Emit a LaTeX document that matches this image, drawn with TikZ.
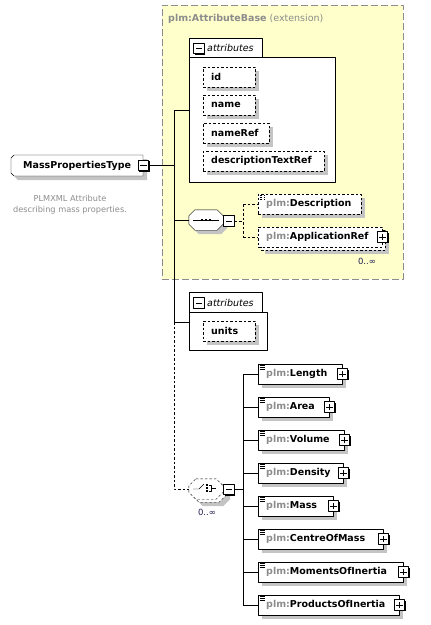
\documentclass[tikz,border=0pt]{standalone}
\usepackage{fontspec}
\setmainfont{DejaVu Sans}
\usetikzlibrary{shadows}
\definecolor{yel}{HTML}{FFFFCC}
\definecolor{shd}{HTML}{C4C4C4}
\definecolor{pfx}{HTML}{8C8C8C}
\definecolor{occ}{HTML}{202050}
\newcommand\plmpfx{\textcolor{pfx}{plm:}}
% octagon outline round a named node: [options]{node}{chamfer}
\newcommand\octo[3][]{%
  \draw[fill=white,#1] ([xshift=#3]#2.north west) -- ([xshift=-#3]#2.north east) -- ([yshift=-#3]#2.north east)
    -- ([yshift=#3]#2.south east) -- ([xshift=-#3]#2.south east) -- ([xshift=#3]#2.south west)
    -- ([yshift=#3]#2.south west) -- ([yshift=-#3]#2.north west) -- cycle;}
\tikzset{
  shd/.style={drop shadow={shadow xshift=4pt,shadow yshift=-4pt,fill=shd,opacity=1}},
  dsh/.style={dash pattern=on 2.5pt off 2pt},
  box/.style={draw,fill=white,anchor=west,minimum height=20,inner xsep=8,inner ysep=0,align=left,font=\fontsize{9.5}{11}\selectfont\bfseries},
  elem/.style={box,shd},
  attr/.style={elem,dsh},
  icon/.style={path picture={\foreach \k in {1.5,3.2,4.9}
      \draw[line width=.4pt] ([shift={(1.5pt,-\k pt)}]path picture bounding box.north west) -- ++(5pt,0);}},
  pm/.style={draw,fill=white,minimum size=10.5,inner sep=0,line width=.8pt,
    drop shadow={shadow xshift=1pt,shadow yshift=-1pt,fill=black,opacity=1}},
  minusbox/.style={pm,path picture={\draw[line width=.8pt] ([xshift=2pt]path picture bounding box.west) -- ([xshift=-2pt]path picture bounding box.east);}},
  plusbox/.style={pm,path picture={\draw[line width=.8pt] ([xshift=2pt]path picture bounding box.west) -- ([xshift=-2pt]path picture bounding box.east)
      ([yshift=2pt]path picture bounding box.south) -- ([yshift=-2pt]path picture bounding box.north);}},
  grp/.style={draw,fill=white,anchor=north west,inner sep=0},
  frame/.style={minimum width=34,minimum height=20,inner sep=0},
  mult/.style={text=occ,font=\fontsize{8.5}{9}\selectfont}
}
\begin{document}
\begin{tikzpicture}[x=1pt,y=-1pt,line join=round]
\useasboundingbox (0,0) rectangle (431,625);
% extension base
\node[draw=pfx,fill=yel,dash pattern=on 7pt off 3pt,anchor=north west,minimum width=241,minimum height=274,inner sep=0] (base) at (162,5) {};
\node[anchor=west,text=pfx,font=\fontsize{9.5}{11}\selectfont,inner sep=0] (basettl) at (168,19) {\textbf{plm:AttributeBase} (extension)};
% type
\draw[fill=white,shd] (14,155) -- (143,155) -- (143,176) -- (14,176) -- (11,173) -- (11,158) -- cycle;
\node[anchor=west,minimum width=132,minimum height=21,inner xsep=4,inner ysep=0,
  font=\fontsize{9.5}{11}\selectfont\bfseries] (mpt) at (11,165.5) {MassPropertiesType\hspace{14pt}};
\node[minusbox] (mptm) at (mpt.east) {};
\node[text=pfx,align=center,font=\fontsize{8.2}{11}\selectfont] (doc) at (70,205) {PLMXML Attribute\\describing mass properties.};
% attributes of base
\node[grp,minimum width=146,minimum height=125] (ag1) at (189,57) {};
\draw[fill=white] (ag1.north west) -- ++(0,-19) -| ([xshift=73pt]ag1.north west);
\node[minusbox] (ag1m) at (199,48.5) {};
\node[anchor=west,inner sep=0,font=\fontsize{9.5}{11}\selectfont\itshape] (ag1t) at (207,48) {attributes};
\foreach \nm/\w/\y [count=\i] in {id/52/77,name/52/105,nameRef/66/133,descriptionTextRef/121/161}{
  \pgfmathsetmacro\tw{\w-16}
  \node[attr,text width=\tw pt] (a\i) at (203,\y) {\nm};
}
% sequence
\node[frame] (seq) at (206,220) {};
\octo[shd]{seq}{6pt}
\draw ([xshift=4pt]seq.west) -- ([xshift=-4pt]seq.east);
\foreach \d in {-4,0,4}
  \fill ([xshift=\d pt]seq.center) +(-1.3pt,-1.3pt) rectangle +(1.3pt,1.3pt);
\node[minusbox] (seqm) at (229,221) {};
\node[attr,icon,text width=87pt] (desc) at (258,204) {\plmpfx Description};
\node[box,dsh,shd,minimum width=124] (arefb) at (261,240) {};
\node[box,dsh,text width=108pt] (aref) at (258,237) {\plmpfx ApplicationRef};
\node[plusbox] (arefp) at (aref.east) {};
\node[mult] (arefm) at (367,261) {0..∞};
% own attributes
\node[grp,minimum width=78,minimum height=38] (ag2) at (189,312) {};
\draw[fill=white] (ag2.north west) -- ++(0,-20) -| ([xshift=73pt]ag2.north west);
\node[minusbox] (ag2m) at (199,303) {};
\node[anchor=west,inner sep=0,font=\fontsize{9.5}{11}\selectfont\itshape] (ag2t) at (207,302.5) {attributes};
\node[attr,text width=36pt] (u1) at (203,331) {units};
% choice
\node[frame] (chob) at (209,492) {};
\node[frame] (cho) at (206,489) {};
\octo[dsh,shd]{chob}{7pt}
\octo[dsh]{cho}{7pt}
\draw (cho.center) ++(-13,0) -- ++(6,0) -- ++(5,-5);
\foreach \d in {-4,-1,2}
  \fill (cho.center) ++(1,\d) +(-1.2pt,-1.2pt) rectangle +(1.2pt,1.2pt);
\draw (cho.center) ++(3,-4) -- ++(2,0) -- ++(0,6) -- ++(-2,0) (cho.center) ++(5,-1) -- ++(5,0);
\node[minusbox] (chom) at (229,489.5) {};
\node[mult] (chomul) at (207,512) {0..∞};
\foreach \nm/\w [count=\i] in {Length/84,Area/71,Volume/86,Density/85,Mass/75,CentreOfMass/125,MomentsOfInertia/145,ProductsOfInertia/141}{
  \pgfmathsetmacro\tw{\w-16}
  \node[elem,icon,text width=\tw pt] (e\i) at (258,{374+33*(\i-1)}) {\plmpfx\nm};
  \node[plusbox] (p\i) at (e\i.east) {};
}
% connectors
\coordinate (t1) at (174,110);
\coordinate (t2) at (174,220);
\coordinate (t3) at (174,322);
\coordinate (t4) at (174,489);
\draw (mptm.east) -- (mptm.east -| t1);
\draw (t1) -- (t3);
\draw (t1) -- (t1 -| ag1.west);
\draw (t2) -- (seq.west);
\draw (t3) -- (t3 -| ag2.west);
\draw[dsh] (t3) -- (t4) -- (cho.west);
\coordinate (s1) at (243,204);
\coordinate (s2) at (243,237);
\draw[dsh] (seqm.east) -- (seqm.east -| s1) (s1) -- (s2) (s1) -- (desc.west) (s2) -- (aref.west);
\coordinate (v1) at (243,374);
\coordinate (v8) at (243,605);
\draw (chom.east) -- (chom.east -| v1) (v1) -- (v8);
\foreach \i in {1,...,8}
  \draw (e\i.west) -- (e\i.west -| v1);
\end{tikzpicture}
\end{document}
